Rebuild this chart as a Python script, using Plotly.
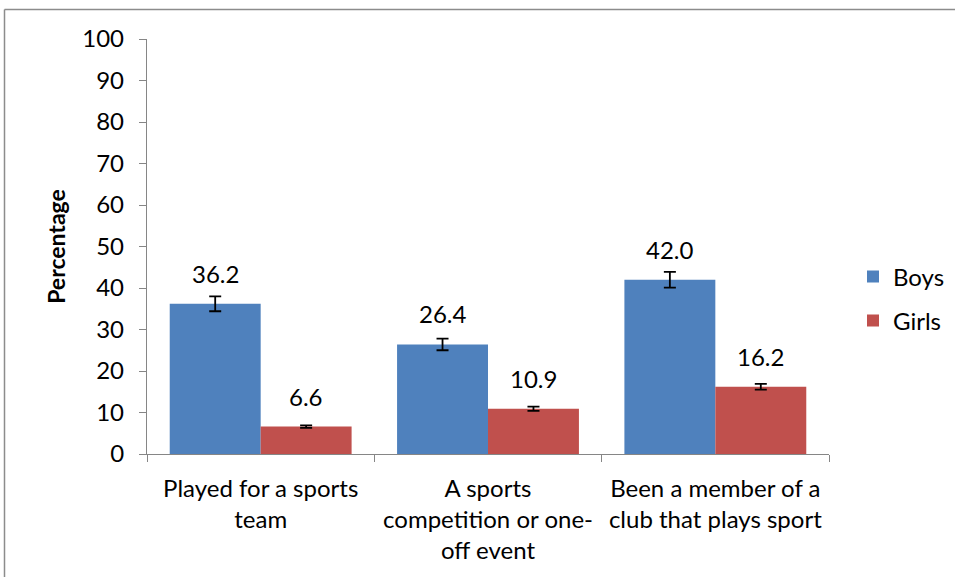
import plotly.graph_objects as go

categories = ["Played for a sports<br>team", "A sports<br>competition or one-<br>off event", "Been a member of a<br>club that plays sport"]
boys = [36.2, 26.4, 42.0]
girls = [6.6, 10.9, 16.2]
boys_err = [1.8, 1.4, 1.9]
girls_err = [0.3, 0.5, 0.7]
y_ticks = [0, 10, 20, 30, 40, 50, 60, 70, 80, 90, 100]

BLUE = "#4F81BD"
RED = "#C0504D"
AXIS = "#868686"
FONT = "Lato, Calibri, Open Sans, sans-serif"

L, R, T, B = 147, 126, 39, 123
W, H = 955, 577
pw = W - L - R
ph = H - T - B

fig = go.Figure()
fig.add_trace(go.Bar(
    x=categories, y=boys, name="Boys", marker=dict(color=BLUE, line=dict(width=0)),
    error_y=dict(type="data", array=boys_err, color="black", thickness=1.8, width=6),
    legend="legend", showlegend=True,
))
fig.add_trace(go.Bar(
    x=categories, y=girls, name="Girls", marker=dict(color=RED, line=dict(width=0)),
    error_y=dict(type="data", array=girls_err, color="black", thickness=1.8, width=6),
    legend="legend2", showlegend=True,
))

annotations = []
bar_px = pw / len(categories) * 0.4 / 2
for i, cat in enumerate(categories):
    for vals, shift in ((boys, -bar_px), (girls, bar_px)):
        annotations.append(dict(
            x=cat, y=vals[i], xref="x", yref="y", text=f"{vals[i]:.1f}",
            showarrow=False, xshift=shift, yshift=14, yanchor="bottom",
            font=dict(family=FONT, size=24, color="black"),
        ))

# outer chart border (top and left visible)
x0 = (4.5 - L) / pw
y0 = (H - B - 9.5) / ph
shapes = [
    dict(type="line", xref="paper", yref="paper", x0=x0, x1=1.5, y0=y0, y1=y0,
         line=dict(color="#8C8C8C", width=1.5)),
    dict(type="line", xref="paper", yref="paper", x0=x0, x1=x0, y0=y0, y1=-0.5,
         line=dict(color="#8C8C8C", width=1.5)),
]

fig.update_layout(
    width=W, height=H,
    margin=dict(l=L, r=R, t=T, b=B, autoexpand=False),
    paper_bgcolor="white", plot_bgcolor="white",
    barmode="group", bargap=0.2, bargroupgap=0,
    font=dict(family=FONT, size=24, color="black"),
    xaxis=dict(
        type="category", showline=True, linecolor=AXIS, linewidth=1.3,
        ticks="outside", tickson="boundaries", ticklen=7, tickcolor=AXIS,
        showgrid=False, tickfont=dict(family=FONT, size=24, color="black"),
        ticklabelstandoff=13, tickangle=0,
    ),
    yaxis=dict(
        range=[0, 100], tickvals=y_ticks, showline=True, linecolor=AXIS, linewidth=1.3,
        ticks="outside", ticklen=7, tickcolor=AXIS, showgrid=False, zeroline=False,
        tickfont=dict(family=FONT, size=24, color="black"), ticklabelstandoff=10,
        title=dict(text="<b>Percentage</b>", font=dict(family=FONT, size=23, color="black"), standoff=10),
    ),
    legend=dict(x=(853 - L) / pw, y=(H - B - 277) / ph, xanchor="left", yanchor="middle",
                font=dict(family=FONT, size=24, color="black"), bgcolor="rgba(0,0,0,0)"),
    legend2=dict(x=(853 - L) / pw, y=(H - B - 321) / ph, xanchor="left", yanchor="middle",
                 font=dict(family=FONT, size=24, color="black"), bgcolor="rgba(0,0,0,0)"),
    annotations=annotations,
    shapes=shapes,
)

fig.write_html("out.html", config={"displayModeBar": False},
               post_script="document.body.style.margin='0';")
